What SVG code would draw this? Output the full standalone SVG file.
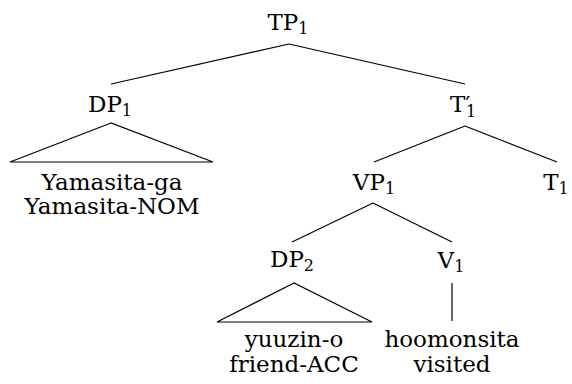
<svg xmlns="http://www.w3.org/2000/svg" width="572" height="384" viewBox="0 0 572 384">
<style>
text{font-family:'DejaVu Serif',serif;font-size:23px;fill:#000;text-anchor:middle}
.sub{font-size:16px}
line,polygon{stroke:#000;stroke-width:1.2;fill:none}
</style>
<rect width="572" height="384" fill="#fff"/>
<g id="connectors">
<line x1="289" y1="44" x2="111" y2="84"/>
<line x1="289" y1="44" x2="465" y2="84"/>
<line x1="465" y1="126" x2="374" y2="162"/>
<line x1="465" y1="126" x2="557" y2="162"/>
<line x1="373" y1="203" x2="292" y2="242"/>
<line x1="373" y1="203" x2="452" y2="242"/>
<line x1="452" y1="283" x2="452" y2="321"/>
</g>
<g id="TP1"><text x="288" y="30">TP<tspan class="sub" dy="4">1</tspan></text></g>
<g id="DP1"><text x="110" y="112">DP<tspan class="sub" dy="4">1</tspan></text>
<polygon points="111,123 10,162 213,162"/>
<text x="112" y="190">Yamasita-ga</text>
<text x="112" y="214">Yamasita-NOM</text></g>
<g id="T1bar"><text x="450" y="112" style="text-anchor:start">T′</text><text x="466" y="117" class="sub" style="text-anchor:start">1</text></g>
<g id="VP1"><text x="374" y="190">VP<tspan class="sub" dy="4">1</tspan></text></g>
<g id="T1"><text x="556" y="190">T<tspan class="sub" dy="4">1</tspan></text></g>
<g id="DP2"><text x="292" y="267">DP<tspan class="sub" dy="4">2</tspan></text>
<polygon points="294,283 217,322 372,322"/>
<text x="294" y="347">yuuzin-o</text>
<text x="294" y="372">friend-ACC</text></g>
<g id="V1"><text x="451" y="268">V<tspan class="sub" dy="4">1</tspan></text>
<text x="452" y="347">hoomonsita</text>
<text x="452" y="372">visited</text></g>
</svg>
